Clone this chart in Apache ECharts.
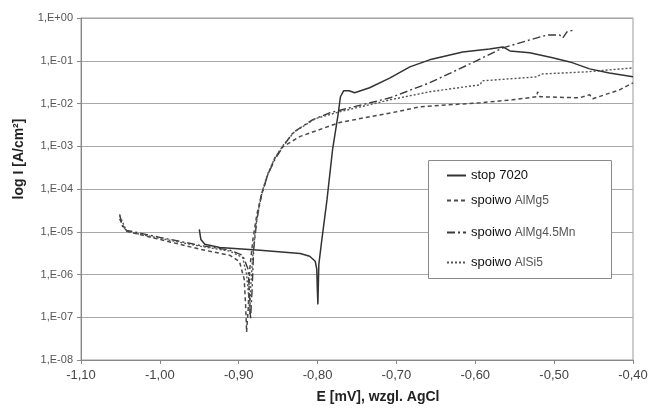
<!DOCTYPE html>
<html>
<head>
<meta charset="utf-8">
<script src="https://cdn.jsdelivr.net/npm/echarts@6/dist/echarts.min.js"></script>
<style>
html,body{margin:0;padding:0;background:#fff;}
#c{width:656px;height:409px;}
</style>
</head>
<body>
<div id="c"></div>
<script>
// ---- Data (E in V vs AgCl, I in A/cm2) ----
var seriesNames = ['stop 7020', 'spoiwo AlMg5', 'spoiwo AlMg4.5Mn', 'spoiwo AlSi5'];

var stopE = [-0.950,-0.948,-0.943,-0.924,-0.873,-0.822,-0.810,-0.803,-0.801,-0.8003,-0.7996,-0.7990,-0.7984,-0.795,-0.788,-0.781,-0.774,-0.771,-0.767,-0.760,-0.753,-0.734,-0.708,-0.683,-0.658,-0.616,-0.582,-0.565,-0.556,-0.531,-0.502,-0.480,-0.455,-0.430,-0.400];
var stopI = [1.14e-5,6.6e-6,5.1e-6,4.3e-6,3.7e-6,3.1e-6,2.67e-6,2.04e-6,1.33e-6,4.5e-7,2.0e-7,5.9e-7,1.73e-6,5.65e-6,5.7e-5,8.3e-4,5.5e-3,1.44e-2,1.98e-2,1.98e-2,1.78e-2,2.33e-2,3.99e-2,7.2e-2,0.105,0.161,0.189,0.211,0.170,0.153,0.117,0.094,0.0646,0.052,0.042];

var mg5E = [-1.051,-1.047,-1.042,-1.000,-0.949,-0.911,-0.899,-0.893,-0.891,-0.890,-0.888,-0.886,-0.882,-0.877,-0.871,-0.863,-0.854,-0.844,-0.822,-0.772,-0.700,-0.670,-0.594,-0.553,-0.522,-0.521,-0.518,-0.468,-0.455,-0.451,-0.417,-0.400];
var mg5I = [2.0e-5,1.41e-5,1.02e-5,6.6e-6,3.9e-6,2.8e-6,2.0e-6,7.7e-7,1.55e-7,4.5e-8,1.55e-7,1.32e-6,6.6e-6,2.54e-5,7.4e-5,2.2e-4,5.4e-4,9.8e-4,1.7e-3,3.6e-3,6.4e-3,8.4e-3,1.04e-2,1.22e-2,1.44e-2,1.88e-2,1.44e-2,1.36e-2,1.6e-2,1.29e-2,2.09e-2,3.05e-2];

var mnE = [-1.051,-1.047,-1.042,-1.000,-0.949,-0.911,-0.895,-0.888,-0.886,-0.885,-0.883,-0.881,-0.877,-0.871,-0.863,-0.854,-0.844,-0.831,-0.806,-0.784,-0.708,-0.658,-0.607,-0.565,-0.531,-0.509,-0.493,-0.489,-0.484,-0.476];
var mnI = [2.54e-5,1.26e-5,1.08e-5,7.4e-6,4.8e-6,3.7e-6,2.8e-6,1.32e-6,2.65e-7,9.0e-8,4.5e-7,3.9e-6,1.94e-5,7.4e-5,2.2e-4,4.9e-4,9.8e-4,2.1e-3,4.2e-3,6.1e-3,1.36e-2,3.05e-2,8.4e-2,0.200,0.307,0.40,0.40,0.34,0.47,0.52];

var si5E = [-1.051,-1.042,-1.000,-0.949,-0.911,-0.895,-0.890,-0.887,-0.886,-0.885,-0.882,-0.878,-0.872,-0.864,-0.854,-0.843,-0.829,-0.803,-0.772,-0.708,-0.658,-0.594,-0.591,-0.522,-0.516,-0.459,-0.400];
var si5I = [2.4e-5,1.02e-5,7.0e-6,4.6e-6,3.5e-6,2.5e-6,1.0e-6,2.65e-7,1.18e-7,4.5e-7,3.0e-6,1.49e-5,6.7e-5,2.1e-4,5.4e-4,1.09e-3,2.2e-3,4.4e-3,6.4e-3,1.22e-2,1.88e-2,2.74e-2,3.39e-2,4.2e-2,4.9e-2,5.5e-2,6.8e-2];

var xMin = -1.10, xMax = -0.40, xStep = 0.10;
var yMin = 1e-8, yMax = 1;

function pairs(a, b) { return a.map(function (v, i) { return [v, b[i]]; }); }

var FONT = 'Liberation Sans, Arial, sans-serif';
var chart = echarts.init(document.getElementById('c'), null, { renderer: 'canvas' });

function mkSeries(name, E, I, type, color, width) {
  return {
    name: name, type: 'line', data: pairs(E, I),
    showSymbol: false, symbol: 'none', z: 2,
    lineStyle: { color: color, width: width, type: type },
    itemStyle: { color: color },
    emphasis: { disabled: true }
  };
}

function legendAt(name, top) {
  return {
    data: [name], left: 446, top: top, orient: 'vertical', padding: 0,
    itemWidth: 19, itemHeight: 12, z: 5, selectedMode: false,
    itemStyle: { color: 'transparent', borderWidth: 0, opacity: 0 },
    formatter: function (n) {
      if (n.indexOf('spoiwo ') === 0) return '{a|spoiwo} {b|' + n.slice(7) + '}';
      return '{a|' + n + '}';
    },
    textStyle: {
      fontFamily: FONT,
      rich: {
        a: { fontSize: 13, color: '#111', fontFamily: FONT },
        b: { fontSize: 12, color: '#555', fontFamily: FONT }
      }
    }
  };
}

var option = {
  animation: false,
  backgroundColor: '#fff',
  grid: { left: 81, right: 23, top: 18, bottom: 48, show: true, borderColor: '#9a9a9a', borderWidth: 1, backgroundColor: 'transparent' },
  xAxis: {
    type: 'value', min: xMin, max: xMax, interval: xStep,
    name: 'E [mV], wzgl. AgCl', nameLocation: 'middle', nameGap: 30,
    nameTextStyle: { fontFamily: FONT, fontSize: 14, fontWeight: 'bold', color: '#222', padding: [0, 0, 0, 42] },
    axisLine: { show: true, lineStyle: { color: '#888', width: 1 } },
    axisTick: { show: true, length: 4, lineStyle: { color: '#888' } },
    axisLabel: { fontFamily: FONT, fontSize: 13, color: '#444', margin: 9,
      formatter: function (v) { return v.toFixed(2).replace('.', ','); } },
    splitLine: { show: false }
  },
  yAxis: {
    type: 'log', logBase: 10, min: yMin, max: yMax, interval: 1,
    name: 'log I [A/cm²]', nameLocation: 'middle', nameGap: 55,
    nameTextStyle: { fontFamily: FONT, fontSize: 14, fontWeight: 'bold', color: '#222', padding: [0, 0, 0, 60] },
    axisLine: { show: true, lineStyle: { color: '#888', width: 1 } },
    axisTick: { show: true, length: 4, lineStyle: { color: '#888' } },
    axisLabel: { fontFamily: FONT, fontSize: 11, color: '#555', margin: 8,
      formatter: function (v) {
        var e = Math.round(Math.log(v) / Math.LN10);
        var a = Math.abs(e);
        return '1,E' + (e < 0 ? '-' : '+') + (a < 10 ? '0' : '') + a;
      } },
    splitLine: { show: true, lineStyle: { color: '#a8a8a8', width: 1.2 } },
    minorTick: { show: false }
  },
  legend: [
    legendAt(seriesNames[0], 169),
    legendAt(seriesNames[1], 194),
    legendAt(seriesNames[2], 226),
    legendAt(seriesNames[3], 256)
  ],
  graphic: [{
    type: 'rect', left: 428, top: 160, z: 4,
    shape: { width: 183, height: 118 },
    style: { fill: '#fff', stroke: '#8a8a8a', lineWidth: 1 }
  }],
  series: [
    mkSeries(seriesNames[1], mg5E, mg5I, [4, 3], '#4a4a4a', 1.5),
    mkSeries(seriesNames[2], mnE, mnI, [8, 3, 2, 3], '#3a3a3a', 1.4),
    mkSeries(seriesNames[3], si5E, si5I, [2, 2], '#555555', 1.4),
    mkSeries(seriesNames[0], stopE, stopI, 'solid', '#333333', 1.5)
  ]
};
chart.setOption(option);
</script>
</body>
</html>
